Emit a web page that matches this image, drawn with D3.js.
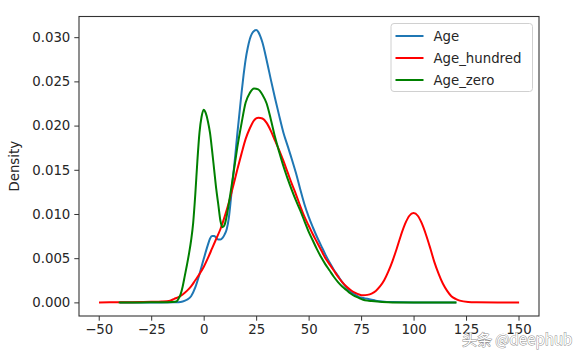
<!DOCTYPE html>
<html>
<head>
<meta charset="utf-8">
<script src="https://cdn.jsdelivr.net/npm/d3@7"></script>
<style>
  html, body { margin: 0; padding: 0; background: #fff; }
  svg { display: block; }
</style>
</head>
<body>
<svg id="chart" width="584" height="359"></svg>
<script>
// ---- data ----
const seriesNames = ["Age", "Age_hundred", "Age_zero"];
const seriesColors = ["#1f77b4", "#ff0000", "#008000"];

const ageX = [-39.4, -30, -20, -14, -12, -10, -8, -6, -4, -2, 0, 2, 3, 4, 5, 6, 7, 8, 9, 10, 11, 12, 13, 14, 15, 16, 17, 18, 19, 20, 21, 22, 23, 24, 25, 26, 27, 28, 30, 32, 34, 36, 38, 40, 42, 44, 46, 48, 50, 52, 54, 56, 58, 60, 62, 64, 66, 68, 70, 72, 74, 76, 78, 80, 82, 85, 90, 100, 110, 119.8];
const ageDensity = [0, 0, 0, 0.00001, 0.00002, 0.0001, 0.0003, 0.0007, 0.0017, 0.0032, 0.0049, 0.0065, 0.0072, 0.0075, 0.0075, 0.0073, 0.0071, 0.0071, 0.0073, 0.0077, 0.0083, 0.0096, 0.0118, 0.0142, 0.0165, 0.0190, 0.0213, 0.0236, 0.0257, 0.0275, 0.0288, 0.0298, 0.0304, 0.0307, 0.0308, 0.0306, 0.0301, 0.0294, 0.0274, 0.0252, 0.0231, 0.0211, 0.0192, 0.0177, 0.0162, 0.0146, 0.0128, 0.0111, 0.0097, 0.0085, 0.0074, 0.0064, 0.0054, 0.0045, 0.0037, 0.0030, 0.0023, 0.0017, 0.0012, 0.0009, 0.0006, 0.0005, 0.0004, 0.0003, 0.0002, 0.0001, 0.00003, 0, 0, 0];

const hundredX = [-49.4, -40, -30, -25, -20, -16, -14, -12, -10, -8, -6, -4, -2, 0, 2, 4, 6, 8, 10, 12, 14, 16, 18, 20, 22, 24, 26, 28, 30, 32, 34, 36, 38, 40, 42, 44, 46, 48, 50, 52, 54, 56, 58, 60, 62, 64, 66, 68, 70, 72, 74, 76, 78, 80, 82, 84, 86, 88, 90, 92, 94, 96, 98, 100, 102, 104, 106, 108, 110, 112, 114, 116, 118, 120, 122, 126, 130, 140, 149.8];
const hundredDensity = [0, 0.00001, 0.00003, 0.00006, 0.0001, 0.0002, 0.0004, 0.0006, 0.0009, 0.0013, 0.0018, 0.0025, 0.0032, 0.0040, 0.0050, 0.0061, 0.0072, 0.0083, 0.0097, 0.0113, 0.0131, 0.0150, 0.0168, 0.0185, 0.0197, 0.0206, 0.0209, 0.0208, 0.0203, 0.0194, 0.0183, 0.0172, 0.0160, 0.0147, 0.0134, 0.0122, 0.0109, 0.0097, 0.0087, 0.0077, 0.0068, 0.0059, 0.0050, 0.0043, 0.0036, 0.0029, 0.0023, 0.0018, 0.0014, 0.0011, 0.0009, 0.0008, 0.00085, 0.0010, 0.0013, 0.0018, 0.0025, 0.0035, 0.0047, 0.0061, 0.0076, 0.0089, 0.0098, 0.0101, 0.0098, 0.0089, 0.0076, 0.0061, 0.0045, 0.0032, 0.0021, 0.0013, 0.0007, 0.0004, 0.0002, 0.00005, 0.00002, 0, 0];

const zeroX = [-40, -30, -20, -15, -13, -12, -11, -10, -9, -8, -7, -6, -5, -4, -3, -2, -1, 0, 1, 2, 3, 4, 5, 6, 7, 8, 9, 10, 11, 12, 13, 14, 15, 16, 18, 20, 22, 24, 26, 28, 30, 32, 34, 36, 38, 40, 42, 44, 46, 48, 50, 52, 54, 56, 58, 60, 62, 64, 66, 68, 70, 72, 74, 76, 78, 80, 85, 90, 100, 110, 120];
const zeroDensity = [0, 0, 0.00001, 0.00005, 0.0001, 0.0004, 0.0009, 0.0018, 0.0030, 0.0042, 0.0055, 0.0070, 0.0090, 0.0122, 0.0160, 0.0192, 0.0210, 0.0218, 0.0214, 0.0205, 0.0192, 0.0172, 0.0150, 0.0128, 0.0110, 0.0092, 0.0085, 0.0088, 0.0098, 0.0112, 0.0127, 0.0143, 0.0159, 0.0175, 0.0202, 0.0226, 0.0237, 0.0242, 0.0241, 0.0235, 0.0225, 0.0207, 0.0187, 0.0170, 0.0154, 0.0140, 0.0127, 0.0115, 0.0104, 0.0092, 0.0080, 0.0070, 0.0060, 0.0051, 0.0043, 0.0036, 0.0029, 0.0023, 0.0018, 0.0014, 0.0010, 0.0007, 0.0005, 0.0003, 0.0002, 0.00015, 0.00005, 0, 0, 0, 0];

const xTicks = [-50, -25, 0, 25, 50, 75, 100, 125, 150];
const yTicks = [0.000, 0.005, 0.010, 0.015, 0.020, 0.025, 0.030];
const yLabel = "Density";
const watermark = "头条 @deephub";

// ---- layout ----
const svg = d3.select("#chart");
const L = 79, R = 539, T = 16.5, B = 316;
const x = d3.scaleLinear().domain([-59.4, 159.76]).range([L, R]);
const y = d3.scaleLinear().domain([-0.00154, 0.03234]).range([B, T]);
const font = "'DejaVu Sans', sans-serif";
const textColor = "#262626";

const series = [
  { name: seriesNames[0], color: seriesColors[0], xs: ageX, ys: ageDensity },
  { name: seriesNames[1], color: seriesColors[1], xs: hundredX, ys: hundredDensity },
  { name: seriesNames[2], color: seriesColors[2], xs: zeroX, ys: zeroDensity }
];

const line = d3.line()
  .x(d => x(d[0]))
  .y(d => y(d[1]))
  .curve(d3.curveMonotoneX);

const plot = svg.append("g");
series.forEach(s => {
  plot.append("path")
    .datum(s.xs.map((v, i) => [v, s.ys[i]]))
    .attr("fill", "none")
    .attr("stroke", s.color)
    .attr("stroke-width", 2)
    .attr("stroke-linejoin", "round")
    .attr("stroke-linecap", "square")
    .attr("d", line);
});

// axes
const xAxis = d3.axisBottom(x).tickValues(xTicks).tickSize(4.7).tickPadding(4)
  .tickFormat(d => d < 0 ? "\u2212" + Math.abs(d) : String(d));
const yAxis = d3.axisLeft(y).tickValues(yTicks).tickSize(4.7).tickPadding(4)
  .tickFormat(d3.format(".3f"));

const gx = svg.append("g").attr("transform", `translate(0,${B})`).call(xAxis);
const gy = svg.append("g").attr("transform", `translate(${L},0)`).call(yAxis);
[gx, gy].forEach(g => {
  g.select(".domain").remove();
  g.selectAll(".tick line").attr("stroke", "#333").attr("stroke-width", 1);
  g.selectAll(".tick text").attr("fill", textColor)
    .style("font-family", font).style("font-size", "13.3px");
});

// frame
svg.append("rect")
  .attr("x", L).attr("y", T).attr("width", R - L).attr("height", B - T)
  .attr("fill", "none").attr("stroke", "#333").attr("stroke-width", 1.1);

// y label
svg.append("text")
  .attr("transform", `translate(19,${(T + B) / 2}) rotate(-90)`)
  .attr("text-anchor", "middle")
  .attr("fill", textColor)
  .style("font-family", font).style("font-size", "13.3px")
  .text(yLabel);

// legend
const lg = svg.append("g").attr("transform", "translate(391,23.5)");
lg.append("rect")
  .attr("width", 141.5).attr("height", 68).attr("rx", 3)
  .attr("fill", "#fff").attr("fill-opacity", 0.8)
  .attr("stroke", "#d0d0d0").attr("stroke-width", 1);
series.forEach((s, i) => {
  const cy = 12.5 + i * 22;
  lg.append("line").attr("x1", 4.5).attr("x2", 32.5).attr("y1", cy).attr("y2", cy)
    .attr("stroke", s.color).attr("stroke-width", 2);
  lg.append("text").attr("x", 42.5).attr("y", cy).attr("dy", "0.35em")
    .attr("fill", textColor)
    .style("font-family", font).style("font-size", "13.3px")
    .text(s.name);
});

// watermark
svg.append("text")
  .attr("x", 462).attr("y", 345)
  .attr("fill", "#ffffff")
  .attr("stroke", "#8a8a8a").attr("stroke-width", 0.9)
  .attr("paint-order", "stroke")
  .style("font-family", "'Noto Sans CJK SC', sans-serif").style("font-size", "15px")
  .text(watermark);
</script>
</body>
</html>
